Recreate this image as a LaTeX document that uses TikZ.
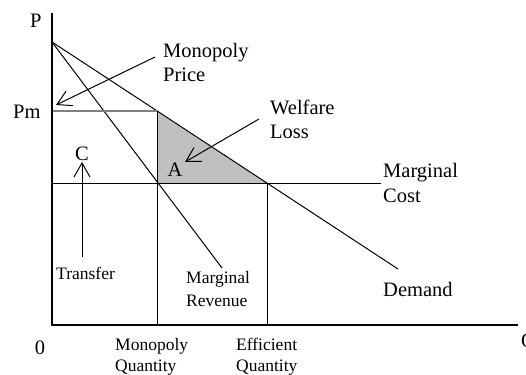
\documentclass[tikz,border=0pt]{standalone}
\usepackage{fontspec}
\setmainfont{Liberation Serif}
\usetikzlibrary{arrows.meta}
\tikzset{
  big/.style={inner sep=0pt, font=\fontsize{20.5}{24}\selectfont},
  small/.style={inner sep=0pt, font=\fontsize{17.5}{21}\selectfont},
  axis/.style={line width=2pt},
  curve/.style={line width=1pt},
  pointer/.style={line width=1pt, -{Straight Barb[length=14pt,width=16pt,line width=1pt]}}
}
\begin{document}
\begin{tikzpicture}[x=1pt,y=-1pt]
\useasboundingbox (0,0) rectangle (526,374);
% coordinates
\coordinate (O) at (52,325);
\coordinate (Ptop) at (52,13);
\coordinate (Qend) at (518,325);
\coordinate (D0) at (52,42);
\coordinate (Dend) at (398,269);
\coordinate (MRend) at (222,268);
\coordinate (PmL) at (52,111.5);
\coordinate (Mq) at (157,111.5);
\coordinate (Mc) at (157,183);
\coordinate (E) at (267,183);
\coordinate (MCL) at (52,183);
\coordinate (MCend) at (381,183);
\coordinate (Mbot) at (157,325);
\coordinate (Ebot) at (267,325);
% welfare loss triangle
\fill[fill={rgb,255:red,192;green,192;blue,192}] (Mq) -- (Mc) -- (E) -- cycle;
% lines
\draw[curve] (D0) -- (Dend);
\draw[curve] (D0) -- (MRend);
\draw[line width=2pt, draw={rgb,255:red,128;green,128;blue,128}] (PmL) -- (Mq);
\draw[curve] (Mq) -- (Mbot);
\draw[curve] (MCL) -- (MCend);
\draw[curve] (E) -- (Ebot);
\draw[axis] (Ptop) -- (O) -- (Qend);
% labels
\node[big, anchor=base west] (lP) at (30,28) {P};
\node[big, anchor=base west] (lQ) at (521,347) {Q};
\node[big, anchor=base] (l0) at (40,354) {0};
\node[big, anchor=base west] (lPm) at (13,119) {Pm};
\node[big, anchor=base west] (lMP1) at (163,58) {Monopoly};
\node[big, anchor=base west] (lMP2) at (163,81.5) {Price};
\node[big, anchor=base west] (lWL1) at (270,114.5) {Welfare};
\node[big, anchor=base west] (lWL2) at (270,139) {Loss};
\node[big, anchor=base] (lC) at (82,160) {C};
\node[big, anchor=base] (lA) at (175,176) {A};
\node[big, anchor=base west] (lMC1) at (383,177) {Marginal};
\node[big, anchor=base west] (lMC2) at (383,202) {Cost};
\node[big, anchor=base west] (lD) at (383,296) {Demand};
\node[small, anchor=base west] (lT) at (56,279) {Transfer};
\node[small, anchor=base west] (lMR1) at (186,283) {Marginal};
\node[small, anchor=base west] (lMR2) at (186,306) {Revenue};
\node[small, anchor=base west] (lMQ1) at (115,350) {Monopoly};
\node[small, anchor=base west] (lMQ2) at (115,371) {Quantity};
\node[small, anchor=base west] (lEQ1) at (236,350) {Efficient};
\node[small, anchor=base west] (lEQ2) at (236,371) {Quantity};
% pointers
\coordinate (mpS) at (155,57);
\coordinate (mpE) at (56,105);
\coordinate (wlS) at (259,119);
\coordinate (wlE) at (185,162);
\coordinate (cS) at (82,257);
\coordinate (cE) at (82,162);
\draw[pointer] (mpS) -- (mpE);
\draw[pointer] (wlS) -- (wlE);
\draw[pointer] (cS) -- (cE);
\end{tikzpicture}
\end{document}
